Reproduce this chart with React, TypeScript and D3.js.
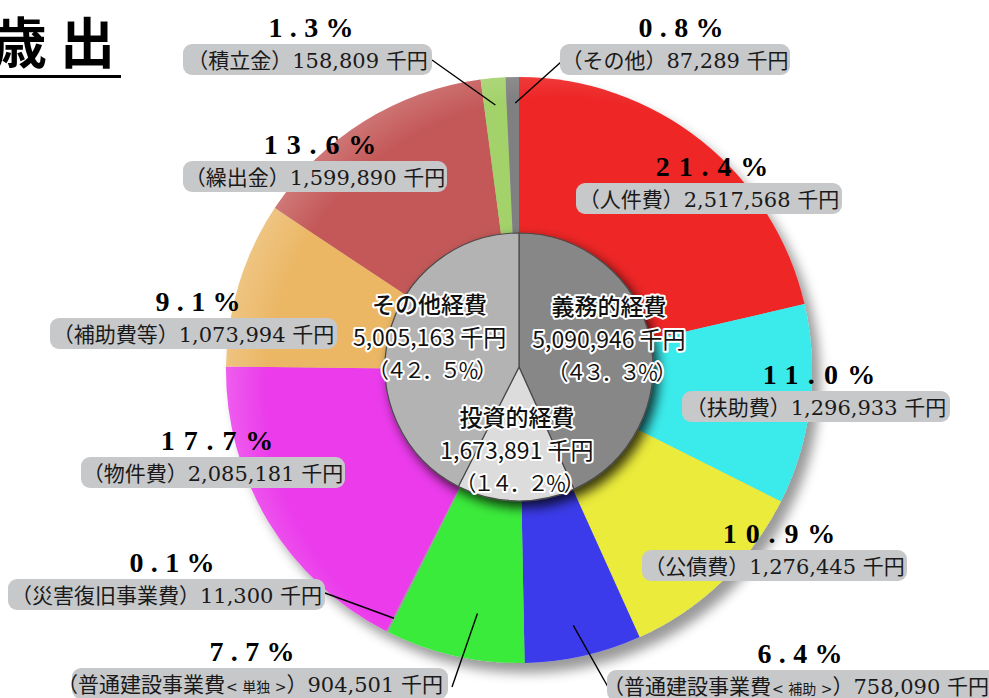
import React from 'react';
import * as d3 from 'd3';

// ---------- data ----------
const categories = [
  '人件費', '扶助費', '公債費', '普通建設事業費<補助>', '普通建設事業費<単独>',
  '災害復旧事業費', '物件費', '補助費等', '繰出金', '積立金', 'その他',
];
const amounts = [2517568, 1296933, 1276445, 758090, 904501, 11300, 2085181, 1073994, 1599890, 158809, 87289];
const percents = ['21.4', '11.0', '10.9', '6.4', '7.7', '0.1', '17.7', '9.1', '13.6', '1.3', '0.8'];
const colors = [
  '#EE2528', '#3AEBEB', '#EBEB3B', '#3A3AEB', '#3AEB3B',
  '#9a9a9a', '#EB3AEB', '#EBB765', '#C45858', '#A3D16A', '#808080',
];

const groups = ['義務的経費', '投資的経費', 'その他経費'];
const groupAmounts = [5090946, 1673891, 5005163];
const groupPercents = ['43.3', '14.2', '42.5'];
const groupColors = ['#878787', '#DCDCDC', '#B3B3B3'];

const title = '歳出';
const unit = '千円';

// ---------- layout ----------
const W = 989, H = 698;
const CX = 519, CY = 370, R = 293;
const ICX = 519, ICY = 367, IR = 134;

type Lead = { side: 'left' | 'right'; frac: number; r: number; dy?: number };
type LabelPos = { bx: number; by: number; bw: number; px: number; tx?: number; lead?: Lead };
const labelLayout: LabelPos[] = [
  { bx: 576, by: 183, bw: 266, px: 712 },
  { bx: 682, by: 391, bw: 268, px: 819 },
  { bx: 642, by: 550, bw: 265, px: 779 },
  { bx: 607, by: 670, bw: 392, px: 800, tx: 796, lead: { side: 'left', frac: 0.53, r: 261, dy: 17 } },
  { bx: 72, by: 668, bw: 376, px: 252, tx: 250, lead: { side: 'right', frac: 0.39, r: 247, dy: 19 } },
  { bx: 8, by: 579, bw: 317, px: 172, lead: { side: 'right', frac: 0.5, r: 278, dy: 14 } },
  { bx: 81, by: 457, bw: 264, px: 217 },
  { bx: 50, by: 318, bw: 287, px: 198 },
  { bx: 183, by: 161, bw: 264, px: 320 },
  { bx: 183, by: 44, bw: 249, px: 311, lead: { side: 'right', frac: 0.5, r: 266, dy: 16 } },
  { bx: 560, by: 44, bw: 230, px: 681, lead: { side: 'left', frac: 0.7, r: 267, dy: 18 } },
];
const BOX_H = 31;

const fmt = d3.format(',');
const toFull = (s: string) =>
  s.replace(/[0-9.%]/g, (c) => {
    if (c === '.') return '．';
    if (c === '%') return '％';
    return String.fromCharCode(c.charCodeAt(0) + 0xfee0);
  });

const LABEL_FONT = "'DejaVu Serif', 'Noto Sans CJK JP', serif";
const SANS = "'Noto Sans CJK JP', sans-serif";

function LabelName({ name }: { name: string }) {
  const i = name.indexOf('<');
  if (i < 0) return <tspan>{'（' + name + '）'}</tspan>;
  return (
    <>
      <tspan>{'（' + name.slice(0, i)}</tspan>
      <tspan fontSize={14} dx={1}>{'< ' + name.slice(i + 1, name.length - 1) + ' >'}</tspan>
      <tspan>{'）'}</tspan>
    </>
  );
}

export default function App() {
  const pie = d3.pie<number>().sort(null).value((d) => d).startAngle(0).endAngle(Math.PI * 2);
  const arcs = pie(amounts);
  const arcGen = d3.arc<d3.PieArcDatum<number>>().innerRadius(0).outerRadius(R);
  const innerArcs = pie(groupAmounts);
  const innerGen = d3.arc<d3.PieArcDatum<number>>().innerRadius(0).outerRadius(IR);
  const innerLabelArc = d3.arc<d3.PieArcDatum<number>>().innerRadius(92).outerRadius(92);

  return (
    <svg width={W} height={H} style={{ position: 'absolute', left: 0, top: 0, background: '#fff' }}
      xmlns="http://www.w3.org/2000/svg">
      <defs>
        <filter id="outerShadow" x="-20%" y="-20%" width="140%" height="140%">
          <feDropShadow dx={8} dy={10} stdDeviation={6} floodColor="#000" floodOpacity={0.4} />
        </filter>
        <filter id="innerShadow" x="-30%" y="-30%" width="160%" height="160%">
          <feDropShadow dx={5} dy={6} stdDeviation={6} floodColor="#000" floodOpacity={0.78} />
        </filter>
        <radialGradient id="rim" gradientUnits="userSpaceOnUse" cx={CX + 40} cy={CY + 20} r={340}>
          <stop offset="0.86" stopColor="#fff" stopOpacity={0} />
          <stop offset="1" stopColor="#fff" stopOpacity={0.2} />
        </radialGradient>
      </defs>

      {/* title */}
      <text x={-8} y={63} fontFamily={SANS} fontWeight={700} fontSize={55} letterSpacing={13} fill="#000">{title}</text>
      <rect x={0} y={75} width={121} height={3} fill="#000" />

      {/* outer pie */}
      <g transform={`translate(${CX},${CY})`}>
        <g filter="url(#outerShadow)">
          {arcs.map((a, i) => (
            <path key={i} d={arcGen(a) || ''} fill={colors[i]} />
          ))}
        </g>
        <circle r={R} fill="url(#rim)" transform={`translate(${-CX},${-CY})`} cx={CX} cy={CY} />
      </g>

      {/* inner pie */}
      <g transform={`translate(${ICX},${ICY})`}>
        <g filter="url(#innerShadow)">
          {innerArcs.map((a, i) => (
            <path key={i} d={innerGen(a) || ''} fill={groupColors[i]} stroke="#4a4a4a" strokeWidth={1.2} />
          ))}
        </g>
        {innerArcs.map((a, i) => {
          const [x, y] = innerLabelArc.centroid(a);
          const lines = [groups[i], fmt(groupAmounts[i]) + ' ' + unit, '（' + toFull(groupPercents[i] + '%') + '）'];
          const offs = [-33, 0, 32];
          return (
            <g key={i}>
              {lines.map((t, j) => (
                <text key={j} x={x + (j === 2 ? 1.5 : 0)} y={y + offs[j]} textAnchor="middle" fontFamily={SANS}
                  fontSize={j === 2 ? 21 : 23} fontWeight={j === 0 ? 500 : 400}
                  letterSpacing={j === 2 ? -3 : 0}
                  fill="#111" stroke="#fff" strokeWidth={4} strokeLinejoin="round"
                  style={{ paintOrder: 'stroke' }}>
                  {t}
                </text>
              ))}
            </g>
          );
        })}
      </g>

      {/* leader lines */}
      {arcs.map((a, i) => {
        const L = labelLayout[i].lead;
        if (!L) return null;
        const lp = labelLayout[i];
        const ang = a.startAngle + (a.endAngle - a.startAngle) * L.frac;
        const ex = CX + Math.sin(ang) * L.r;
        const ey = CY - Math.cos(ang) * L.r;
        const sx = L.side === 'right' ? lp.bx + lp.bw + (i === 4 ? 4 : 0) : lp.bx + 1;
        const sy = lp.by + (L.dy ?? 16);
        return <line key={i} x1={sx} y1={sy} x2={ex} y2={ey} stroke="#000" strokeWidth={1.4} />;
      })}

      {/* labels */}
      {categories.map((c, i) => {
        const lp = labelLayout[i];
        const pct = percents[i] + '%';
        const tl = 27.5 * (pct.length - 2) + 30;
        const tx = lp.tx ?? lp.bx + lp.bw / 2;
        return (
          <g key={i}>
            <text x={lp.px} y={lp.by - 7} textAnchor="middle" fontFamily="'Liberation Serif', serif"
              fontWeight={700} fontSize={28} fill="#000" textLength={tl} lengthAdjust="spacing">{pct}</text>
            <rect x={lp.bx} y={lp.by} width={lp.bw} height={BOX_H} rx={9} fill="#C7C8CA" />
            <text x={tx} y={lp.by + 24} textAnchor="middle" fontFamily={LABEL_FONT} fontSize={21} fill="#1a1a1a">
              <LabelName name={c} />
              <tspan>{fmt(amounts[i]) + ' ' + unit}</tspan>
            </text>
          </g>
        );
      })}
    </svg>
  );
}
